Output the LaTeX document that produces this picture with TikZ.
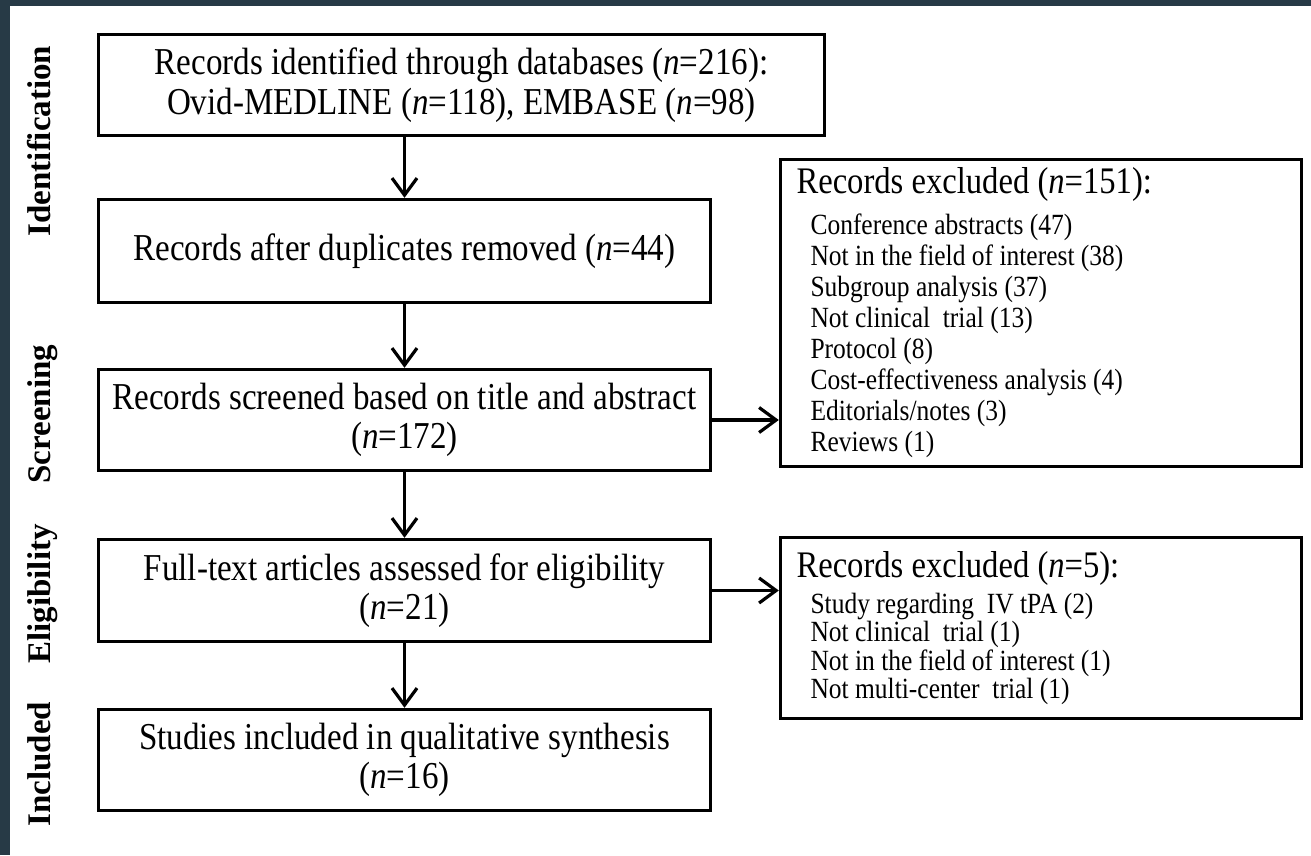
\documentclass[tikz,border=0pt]{standalone}
\usepackage{fontspec}
\setmainfont{Liberation Serif}[FakeStretch=0.87]
\newfontfamily\labelfont{Liberation Serif}
\usetikzlibrary{arrows.meta}
\definecolor{framecol}{HTML}{273A46}
\begin{document}
\begin{tikzpicture}[x=1pt,y=-1pt,
  box/.style={draw=black, line width=3.4pt, inner sep=0pt, align=center,
    font=\fontsize{38}{39.5}\selectfont},
  exbox/.style={draw=black, line width=3.4pt, inner xsep=16pt, inner ysep=0pt,
    text width=489pt, align=left},
  stage/.style={rotate=90, anchor=base, inner sep=0pt,
    font=\labelfont\fontsize{33}{38}\selectfont\bfseries},
  arr/.style={line width=3.2pt, -{Straight Barb[length=17pt,width=25pt]}},
]
\useasboundingbox (0,0) rectangle (1311,855);
\fill[white] (0,0) rectangle (1311,855);
\fill[framecol] (0,0) rectangle (1311,6);
\fill[framecol] (0,0) rectangle (10,855);

% stage labels
\node[stage] (s1) at (50,141) {Identification};
\node[stage] (s2) at (50,414) {Screening};
\node[stage] (s3) at (50,594) {Eligibility};
\node[stage] (s4) at (50,764) {Included};

% main boxes
\node[box, minimum width=726pt, minimum height=101pt] (b1) at (461.5,85)
  {Records identified through databases (\textit{n}=216):\\Ovid-MEDLINE (\textit{n}=118), EMBASE (\textit{n}=98)};
\node[box, minimum width=612pt, minimum height=103pt] (b2) at (404.5,251)
  {Records after duplicates removed (\textit{n}=44)};
\node[box, minimum width=612pt, minimum height=101pt] (b3) at (404.5,420)
  {Records screened based on title and abstract\\(\textit{n}=172)};
\node[box, minimum width=612pt, minimum height=102pt] (b4) at (404.5,590.5)
  {Full-text articles assessed for eligibility\\(\textit{n}=21)};
\node[box, minimum width=612pt, minimum height=101pt] (b5) at (404.5,760)
  {Studies included in qualitative synthesis\\(\textit{n}=16)};

% exclusion boxes
\node[exbox, minimum width=521pt, minimum height=307pt] (ex1) at (1041,313) {%
  \parindent=0pt\spaceskip=0pt\xspaceskip=0pt
  {\fontsize{37.5}{40}\selectfont Records excluded (\textit{n}=151):\par}%
  \vspace{10pt}%
  {\fontsize{29.3}{31}\selectfont\leftskip=14pt
  Conference abstracts (47)\\
  Not in the field of interest (38)\\
  Subgroup analysis (37)\\
  Not clinical\ \ trial (13)\\
  Protocol (8)\\
  Cost-effectiveness analysis (4)\\
  Editorials/notes (3)\\
  Reviews (1)\par}};
\node[exbox, minimum width=521pt, minimum height=181pt] (ex2) at (1041,628) {%
  \parindent=0pt\spaceskip=0pt\xspaceskip=0pt
  {\fontsize{37.5}{40}\selectfont Records excluded (\textit{n}=5):\par}%
  \vspace{7.6pt}%
  {\fontsize{29.3}{28.4}\selectfont\leftskip=14pt
  Study regarding\ \ IV tPA (2)\\
  Not clinical\ \ trial (1)\\
  Not in the field of interest (1)\\
  Not multi-center\ \ trial (1)\par}};

% connectors
\draw[arr] (b2.north |- b1.south) -- (b2.north);
\draw[arr] (b2.south) -- (b3.north);
\draw[arr] (b3.south) -- (b4.north);
\draw[arr] (b4.south) -- (b5.north);
\draw[arr] (b3.east) -- (ex1.west |- b3.east);
\draw[arr] (b4.east) -- (ex2.west |- b4.east);
\end{tikzpicture}
\end{document}
